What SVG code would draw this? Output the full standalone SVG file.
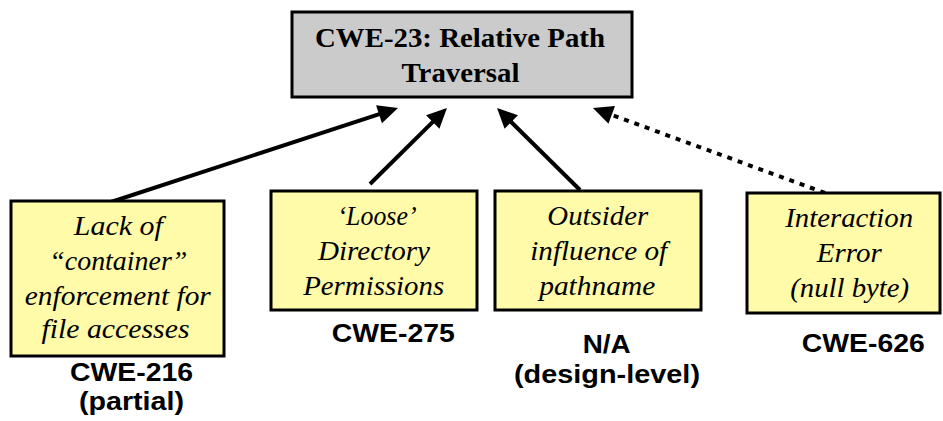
<svg xmlns="http://www.w3.org/2000/svg" width="943" height="421" viewBox="0 0 943 421">
<style>
.box{stroke:#000;stroke-width:3}
.gray{fill:#cbcbcb}
.yel{fill:#fffba8}
.title{font-weight:bold;font-size:28px;fill:#000;text-anchor:middle}
.it{font-style:italic;font-size:27px;fill:#000;text-anchor:middle}
.lab{font-weight:bold;font-size:26.5px;fill:#000;text-anchor:middle}
.conn{stroke:#000;stroke-width:4;fill:none}
.dot{stroke-dasharray:5 6}
</style>
<defs>
<marker id="ah" markerUnits="userSpaceOnUse" markerWidth="20" markerHeight="19" refX="14" refY="9.5" orient="auto" overflow="visible">
<path d="M0,0 L20,9.5 L0,19 Z" fill="#000"/>
</marker>
</defs>
<g id="connectors">
<line class="conn" x1="108" y1="203" x2="392.3" y2="109.8" marker-end="url(#ah)"/>
<line class="conn" x1="370" y1="184" x2="442.7" y2="112.2" marker-end="url(#ah)"/>
<line class="conn" x1="580" y1="190" x2="501.3" y2="112.2" marker-end="url(#ah)"/>
<line class="conn dot" x1="825" y1="193" x2="598.6" y2="110.1" marker-end="url(#ah)"/>
</g>
<g id="cwe23" font-family="Liberation Serif, Times New Roman, serif">
<rect class="box gray" x="292" y="12" width="340" height="85"/>
<text class="title" x="460" y="47" textLength="290" lengthAdjust="spacingAndGlyphs">CWE-23: Relative Path</text>
<text class="title" x="460.5" y="82" textLength="118" lengthAdjust="spacingAndGlyphs">Traversal</text>
</g>
<g id="cwe216" font-family="Liberation Serif, Times New Roman, serif">
<rect class="box yel" x="11" y="201" width="213" height="155"/>
<text class="it" x="118.3" y="235" textLength="89" lengthAdjust="spacingAndGlyphs">Lack of</text>
<text class="it" x="118.3" y="270" textLength="138" lengthAdjust="spacingAndGlyphs">“container”</text>
<text class="it" x="117.8" y="305" textLength="186" lengthAdjust="spacingAndGlyphs">enforcement for</text>
<text class="it" x="115.5" y="338" textLength="148" lengthAdjust="spacingAndGlyphs">file accesses</text>
<text class="lab" font-family="Liberation Sans, Arial, sans-serif" x="131.5" y="381" textLength="123" lengthAdjust="spacingAndGlyphs">CWE-216</text>
<text class="lab" font-family="Liberation Sans, Arial, sans-serif" x="131.5" y="410" textLength="105" lengthAdjust="spacingAndGlyphs">(partial)</text>
</g>
<g id="cwe275" font-family="Liberation Serif, Times New Roman, serif">
<rect class="box yel" x="271" y="191" width="206" height="119"/>
<text class="it" x="377" y="225" textLength="79" lengthAdjust="spacingAndGlyphs">‘Loose’</text>
<text class="it" x="374" y="260" textLength="112" lengthAdjust="spacingAndGlyphs">Directory</text>
<text class="it" x="373.7" y="295" textLength="141" lengthAdjust="spacingAndGlyphs">Permissions</text>
<text class="lab" font-family="Liberation Sans, Arial, sans-serif" x="393.3" y="342" textLength="123" lengthAdjust="spacingAndGlyphs">CWE-275</text>
</g>
<g id="outsider" font-family="Liberation Serif, Times New Roman, serif">
<rect class="box yel" x="495" y="191" width="206" height="119"/>
<text class="it" x="597.8" y="225" textLength="101" lengthAdjust="spacingAndGlyphs">Outsider</text>
<text class="it" x="598.7" y="260" textLength="137" lengthAdjust="spacingAndGlyphs">influence of</text>
<text class="it" x="597.2" y="295" textLength="116" lengthAdjust="spacingAndGlyphs">pathname</text>
<text class="lab" font-family="Liberation Sans, Arial, sans-serif" x="606.7" y="353" textLength="48" lengthAdjust="spacingAndGlyphs">N/A</text>
<text class="lab" font-family="Liberation Sans, Arial, sans-serif" x="607" y="383" textLength="186" lengthAdjust="spacingAndGlyphs">(design-level)</text>
</g>
<g id="cwe626" font-family="Liberation Serif, Times New Roman, serif">
<rect class="box yel" x="747" y="193" width="193" height="120"/>
<text class="it" x="849.2" y="227" textLength="128" lengthAdjust="spacingAndGlyphs">Interaction</text>
<text class="it" x="849.2" y="262" textLength="65" lengthAdjust="spacingAndGlyphs">Error</text>
<text class="it" x="849.7" y="297" textLength="119" lengthAdjust="spacingAndGlyphs">(null byte)</text>
<text class="lab" font-family="Liberation Sans, Arial, sans-serif" x="863.3" y="352" textLength="123" lengthAdjust="spacingAndGlyphs">CWE-626</text>
</g>
</svg>
